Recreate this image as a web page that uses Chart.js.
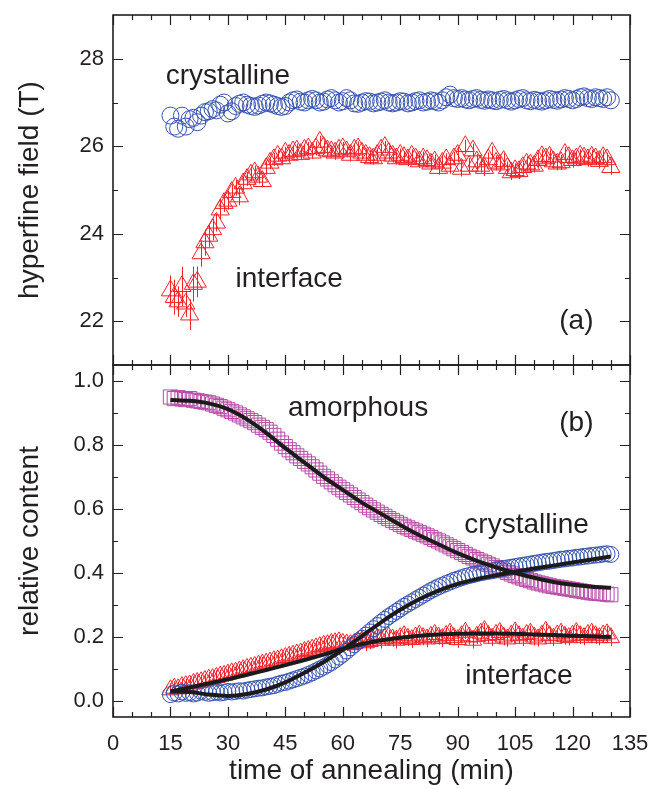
<!DOCTYPE html>
<html>
<head>
<meta charset="utf-8">
<script src="https://cdn.jsdelivr.net/npm/chart.js@4.4.1/dist/chart.umd.min.js"></script>
<style>
  html, body { margin: 0; padding: 0; background: #fff; }
  #wrap { position: relative; width: 661px; height: 789px; }
  #wrap canvas { position: absolute; left: 0; top: 0; }
</style>
</head>
<body>
<div id="wrap">
  <canvas id="panelA" width="661" height="789"></canvas>
  <canvas id="panelB" width="661" height="789"></canvas>
</div>
<script>
// --- data (time of annealing in min) ---
const times = [
  15, 16, 17, 18, 19, 20, 21, 22, 23, 24,
  25, 26, 27, 28, 29, 30, 31, 32, 33, 34,
  35, 36, 37, 38, 39, 40, 41, 42, 43, 44,
  45, 46, 47, 48, 49, 50, 51, 52, 53, 54,
  55, 56, 57, 58, 59, 60, 61, 62, 63, 64,
  65, 66, 67, 68, 69, 70, 71, 72, 73, 74,
  75, 76, 77, 78, 79, 80, 81, 82, 83, 84,
  85, 86, 87, 88, 89, 90, 91, 92, 93, 94,
  95, 96, 97, 98, 99, 100, 101, 102, 103, 104,
  105, 106, 107, 108, 109, 110, 111, 112, 113, 114,
  115, 116, 117, 118, 119, 120, 121, 122, 123, 124,
  125, 126, 127, 128, 129, 130
];

// (a) hyperfine field, T
const hfCrystalline = [
  26.70, 26.45, 26.40, 26.70, 26.45, 26.62, 26.65, 26.55, 26.70, 26.78,
  26.80, 26.85, 26.82, 26.95, 27.00, 26.75, 26.80, 26.92, 26.97, 27.00,
  26.95, 26.92, 26.90, 26.93, 26.97, 27.00, 26.98, 26.95, 26.92, 26.90,
  26.92, 27.00, 27.05, 27.07, 27.02, 27.00, 27.05, 27.08, 27.05, 27.00,
  27.02, 27.07, 27.10, 27.05, 27.00, 27.03, 27.10, 27.05, 26.98, 26.97,
  27.00, 27.03, 27.02, 26.98, 27.00, 27.02, 27.05, 27.00, 26.98, 27.00,
  27.03, 27.02, 26.98, 27.00, 27.03, 27.05, 27.00, 27.02, 27.05, 27.03,
  27.00, 27.05, 27.12, 27.18, 27.10, 27.08, 27.10, 27.07, 27.05, 27.08,
  27.10, 27.06, 27.04, 27.07, 27.05, 27.03, 27.06, 27.08, 27.05, 27.02,
  27.05, 27.08, 27.10, 27.05, 27.03, 27.06, 27.04, 27.02, 27.05, 27.08,
  27.06, 27.04, 27.07, 27.10, 27.08, 27.05, 27.08, 27.12, 27.14, 27.10,
  27.08, 27.12, 27.10, 27.08, 27.12, 27.05
];
const hfInterface = [
  22.70, 22.55, 22.45, 22.80, 22.40, 22.15, 22.85, 22.90, 23.55, 23.80,
  23.95, 24.10, 24.25, 24.55, 24.70, 24.75, 24.95, 25.05, 24.85, 25.15,
  25.25, 25.35, 25.40, 25.30, 25.20, 25.50, 25.62, 25.70, 25.78, 25.72,
  25.85, 25.80, 25.88, 25.90, 25.82, 25.92, 25.95, 25.85, 25.95, 26.10,
  25.98, 25.90, 25.88, 25.85, 25.92, 25.95, 25.88, 25.80, 25.92, 25.95,
  25.85, 25.80, 25.75, 25.72, 25.80, 25.92, 25.98, 25.85, 25.78, 25.72,
  25.80, 25.75, 25.70, 25.78, 25.72, 25.65, 25.72, 25.68, 25.60, 25.65,
  25.50, 25.62, 25.70, 25.55, 25.72, 25.80, 25.48, 26.00, 25.55, 25.90,
  25.65, 25.55, 25.50, 25.70, 25.85, 25.62, 25.58, 25.66, 25.50, 25.40,
  25.45, 25.43, 25.52, 25.60, 25.58, 25.55, 25.68, 25.77, 25.72, 25.76,
  25.65, 25.60, 25.63, 25.82, 25.75, 25.68, 25.72, 25.78, 25.74, 25.70,
  25.76, 25.72, 25.66, 25.75, 25.70, 25.52
];
const hfInterfaceErr = [
  0.35, 0.40, 0.35, 0.45, 0.30, 0.35, 0.40, 0.35, 0.30, 0.30,
  0.25, 0.25, 0.20, 0.22, 0.20, 0.20, 0.18, 0.18, 0.20, 0.16,
  0.16, 0.15, 0.16, 0.15, 0.14, 0.15, 0.14, 0.15, 0.14, 0.15,
  0.14, 0.15, 0.13, 0.16, 0.14, 0.13, 0.15, 0.14, 0.16, 0.14,
  0.15, 0.13, 0.14, 0.16, 0.14, 0.15, 0.13, 0.15, 0.14, 0.16,
  0.14, 0.15, 0.16, 0.14, 0.15, 0.13, 0.14, 0.16, 0.15, 0.14,
  0.15, 0.14, 0.16, 0.15, 0.14, 0.15, 0.16, 0.14, 0.15, 0.16,
  0.15, 0.16, 0.14, 0.18, 0.15, 0.16, 0.17, 0.15, 0.18, 0.16,
  0.17, 0.15, 0.18, 0.16, 0.15, 0.17, 0.16, 0.18, 0.15, 0.17,
  0.16, 0.18, 0.15, 0.17, 0.16, 0.15, 0.17, 0.16, 0.15, 0.17,
  0.16, 0.15, 0.17, 0.16, 0.15, 0.17, 0.16, 0.15, 0.16, 0.17,
  0.16, 0.15, 0.17, 0.16, 0.15, 0.18
];

// (b) relative content
const relAmorphous = [
  0.950, 0.945, 0.948, 0.944, 0.942, 0.945, 0.940, 0.938, 0.936, 0.934,
  0.932, 0.928, 0.924, 0.920, 0.915, 0.910, 0.905, 0.900, 0.894, 0.888,
  0.882, 0.876, 0.870, 0.862, 0.855, 0.848, 0.840, 0.830, 0.818, 0.806,
  0.795, 0.785, 0.776, 0.766, 0.758, 0.749, 0.741, 0.732, 0.722, 0.712,
  0.702, 0.694, 0.685, 0.676, 0.668, 0.660, 0.652, 0.644, 0.636, 0.628,
  0.620, 0.612, 0.604, 0.597, 0.590, 0.583, 0.577, 0.570, 0.564, 0.558,
  0.552, 0.546, 0.541, 0.536, 0.531, 0.526, 0.521, 0.516, 0.511, 0.505,
  0.500, 0.494, 0.488, 0.482, 0.476, 0.470, 0.464, 0.458, 0.452, 0.447,
  0.442, 0.437, 0.432, 0.427, 0.422, 0.417, 0.412, 0.407, 0.402, 0.397,
  0.392, 0.388, 0.384, 0.380, 0.376, 0.372, 0.369, 0.366, 0.363, 0.360,
  0.358, 0.356, 0.354, 0.352, 0.350, 0.348, 0.346, 0.344, 0.342, 0.340,
  0.338, 0.337, 0.336, 0.335, 0.334, 0.332
];
const relCrystalline = [
  0.020, 0.025, 0.022, 0.028, 0.024, 0.026, 0.022, 0.025, 0.030, 0.027,
  0.024, 0.026, 0.028, 0.025, 0.027, 0.030, 0.028, 0.030, 0.032, 0.031,
  0.034, 0.036, 0.038, 0.040, 0.041, 0.044, 0.046, 0.048, 0.052, 0.056,
  0.058, 0.062, 0.066, 0.070, 0.074, 0.078, 0.083, 0.088, 0.094, 0.100,
  0.106, 0.113, 0.120, 0.128, 0.137, 0.146, 0.156, 0.166, 0.176, 0.186,
  0.196, 0.206, 0.216, 0.226, 0.236, 0.246, 0.255, 0.264, 0.272, 0.280,
  0.288, 0.296, 0.303, 0.310, 0.317, 0.324, 0.331, 0.338, 0.345, 0.351,
  0.357, 0.362, 0.367, 0.372, 0.377, 0.381, 0.385, 0.389, 0.392, 0.395,
  0.398, 0.401, 0.403, 0.405, 0.407, 0.410, 0.412, 0.414, 0.416, 0.418,
  0.420, 0.422, 0.424, 0.426, 0.428, 0.430, 0.432, 0.434, 0.436, 0.437,
  0.439, 0.441, 0.443, 0.444, 0.446, 0.447, 0.449, 0.450, 0.452, 0.453,
  0.455, 0.456, 0.457, 0.459, 0.460, 0.458
];
const relInterface = [
  0.035, 0.040, 0.038, 0.045, 0.048, 0.050, 0.055, 0.058, 0.060, 0.064,
  0.068, 0.070, 0.074, 0.078, 0.080, 0.084, 0.088, 0.090, 0.094, 0.098,
  0.102, 0.105, 0.108, 0.112, 0.115, 0.118, 0.122, 0.126, 0.128, 0.132,
  0.136, 0.140, 0.143, 0.147, 0.150, 0.155, 0.158, 0.162, 0.166, 0.170,
  0.174, 0.176, 0.180, 0.182, 0.185, 0.180, 0.178, 0.176, 0.180, 0.185,
  0.188, 0.182, 0.186, 0.190, 0.195, 0.190, 0.196, 0.200, 0.194, 0.190,
  0.198, 0.204, 0.196, 0.192, 0.200, 0.206, 0.198, 0.194, 0.202, 0.208,
  0.200, 0.195, 0.205, 0.212, 0.198, 0.192, 0.204, 0.215, 0.200, 0.190,
  0.202, 0.212, 0.220, 0.205, 0.196, 0.208, 0.214, 0.200, 0.194, 0.206,
  0.216, 0.204, 0.196, 0.208, 0.212, 0.200, 0.194, 0.206, 0.218, 0.204,
  0.196, 0.206, 0.212, 0.202, 0.198, 0.206, 0.214, 0.204, 0.198, 0.208,
  0.212, 0.204, 0.198, 0.206, 0.210, 0.198
];
const relInterfaceErr = [
  0.020, 0.022, 0.020, 0.024, 0.022, 0.020, 0.022, 0.024, 0.022, 0.020,
  0.022, 0.024, 0.022, 0.020, 0.022, 0.024, 0.022, 0.020, 0.022, 0.024,
  0.022, 0.020, 0.022, 0.024, 0.022, 0.020, 0.022, 0.024, 0.022, 0.020,
  0.022, 0.024, 0.022, 0.020, 0.022, 0.024, 0.022, 0.020, 0.022, 0.024,
  0.022, 0.020, 0.022, 0.024, 0.022, 0.020, 0.022, 0.024, 0.022, 0.020,
  0.024, 0.026, 0.024, 0.022, 0.024, 0.026, 0.024, 0.022, 0.024, 0.026,
  0.024, 0.022, 0.024, 0.026, 0.024, 0.022, 0.024, 0.026, 0.024, 0.022,
  0.024, 0.026, 0.024, 0.022, 0.024, 0.026, 0.024, 0.022, 0.024, 0.026,
  0.024, 0.022, 0.024, 0.026, 0.024, 0.022, 0.024, 0.026, 0.024, 0.022,
  0.024, 0.026, 0.024, 0.022, 0.024, 0.026, 0.024, 0.022, 0.024, 0.026,
  0.024, 0.022, 0.024, 0.026, 0.024, 0.022, 0.024, 0.026, 0.024, 0.022,
  0.024, 0.026, 0.024, 0.022, 0.024, 0.026
];

// fitted curves (black lines)
const fitTimes = [15, 20, 25, 30, 35, 40, 45, 50, 55, 60, 65, 70, 75, 80, 85, 90, 95, 100, 105, 110, 115, 120, 125, 130];
const fitAmorphous = [0.941, 0.938, 0.930, 0.912, 0.880, 0.838, 0.790, 0.745, 0.700, 0.660, 0.620, 0.585, 0.550, 0.518, 0.490, 0.462, 0.438, 0.418, 0.400, 0.385, 0.372, 0.363, 0.357, 0.354];
const fitCrystalline = [0.030, 0.028, 0.020, 0.016, 0.022, 0.036, 0.058, 0.088, 0.122, 0.160, 0.203, 0.246, 0.285, 0.318, 0.345, 0.366, 0.381, 0.393, 0.404, 0.414, 0.423, 0.433, 0.442, 0.452];
const fitInterface = [0.030, 0.042, 0.055, 0.068, 0.082, 0.097, 0.112, 0.128, 0.145, 0.163, 0.178, 0.190, 0.198, 0.204, 0.208, 0.210, 0.211, 0.211, 0.210, 0.208, 0.206, 0.204, 0.202, 0.200];

// --- axis ticks ---
const xMajor = [0, 15, 30, 45, 60, 75, 90, 105, 120, 135];
const xMinor = [5, 10, 20, 25, 35, 40, 50, 55, 65, 70, 80, 85, 95, 100, 110, 115, 125, 130];
const hfMajor = [22, 24, 26, 28];
const hfMinor = [23, 25, 27];
const relMajor = [0, 0.2, 0.4, 0.6, 0.8, 1.0];
const relMinor = [0.1, 0.3, 0.5, 0.7, 0.9];

// --- look ---
const INK = '#231f20';
const BLUE = '#3552ad';
const RED = '#f2222a';
const PINK = '#b94aa6';
const FONT = '"Liberation Sans", Arial, Helvetica, sans-serif';
const PLOT = { left: 113, right: 630, top: 15, mid: 365, bottom: 717 };

Chart.defaults.font.family = FONT;
Chart.defaults.color = INK;

const xy = (xs, ys) => xs.map((x, i) => ({ x, y: ys[i] }));

// inward ticks on all four sides + frame
const frameTicks = {
  id: 'frameTicks',
  afterDraw(chart, args, o) {
    const { ctx, chartArea: a } = chart;
    const xs = chart.scales.x, ys = chart.scales.y;
    ctx.save();
    ctx.strokeStyle = INK;
    ctx.lineWidth = 1.2;
    ctx.beginPath();
    const xTick = (v, len) => {
      const p = Math.round(xs.getPixelForValue(v)) + 0.5;
      ctx.moveTo(p, a.bottom); ctx.lineTo(p, a.bottom - len);
      ctx.moveTo(p, a.top); ctx.lineTo(p, a.top + len);
    };
    const yTick = (v, len) => {
      const p = Math.round(ys.getPixelForValue(v)) + 0.5;
      ctx.moveTo(a.left, p); ctx.lineTo(a.left + len, p);
      ctx.moveTo(a.right, p); ctx.lineTo(a.right - len, p);
    };
    o.xMajor.forEach(v => xTick(v, 10));
    o.xMinor.forEach(v => xTick(v, 5));
    o.yMajor.forEach(v => yTick(v, 10));
    o.yMinor.forEach(v => yTick(v, 5));
    ctx.stroke();
    ctx.lineWidth = 1.6;
    ctx.strokeRect(a.left, a.top, a.right - a.left, a.bottom - a.top);
    ctx.restore();
  }
};

// vertical error bars for datasets that carry an `errors` array
const errorBars = {
  id: 'errorBars',
  beforeDatasetsDraw(chart) {
    const { ctx } = chart;
    const ys = chart.scales.y;
    chart.data.datasets.forEach((ds, i) => {
      if (!ds.errors) return;
      const meta = chart.getDatasetMeta(i);
      ctx.save();
      ctx.strokeStyle = ds.borderColor;
      ctx.lineWidth = 1;
      ctx.beginPath();
      meta.data.forEach((pt, j) => {
        const v = ds.data[j].y, e = ds.errors[j];
        const px = Math.round(pt.x) + 0.5;
        ctx.moveTo(px, ys.getPixelForValue(v - e));
        ctx.lineTo(px, ys.getPixelForValue(v + e));
      });
      ctx.stroke();
      ctx.restore();
    });
  }
};

// in-plot text labels, placed in data coordinates
const plotLabels = {
  id: 'plotLabels',
  afterDraw(chart, args, o) {
    const { ctx } = chart;
    ctx.save();
    ctx.font = '28px ' + FONT;
    ctx.fillStyle = INK;
    ctx.textAlign = 'center';
    ctx.textBaseline = 'middle';
    o.items.forEach(it => {
      ctx.fillText(it.text, chart.scales.x.getPixelForValue(it.x), chart.scales.y.getPixelForValue(it.y));
    });
    ctx.restore();
  }
};

const yAxis = (min, max, major, title, fmt) => ({
  type: 'linear',
  min, max,
  afterBuildTicks: s => { s.ticks = major.map(v => ({ value: v })); },
  afterFit: s => { s.width = PLOT.left; s.paddingTop = 0; s.paddingBottom = 0; },
  grid: { display: false, drawTicks: false },
  border: { display: false },
  ticks: { font: { size: 22 }, color: INK, padding: 9, callback: fmt },
  title: { display: true, text: title, font: { size: 28 }, color: INK, padding: { top: 13, bottom: 0 } }
});

const scatterSet = (label, data, style, radius, color, extra) => Object.assign({
  label, data,
  showLine: false,
  pointStyle: style,
  pointRadius: radius,
  pointBorderWidth: 1,
  borderColor: color,
  pointBorderColor: color,
  pointBackgroundColor: 'rgba(0,0,0,0)'
}, extra || {});

const fitSet = (label, data) => ({
  label, data,
  showLine: true,
  pointRadius: 0,
  borderColor: '#1c1a1a',
  borderWidth: 4,
  cubicInterpolationMode: 'monotone',
  fill: false
});

// --- (a) hyperfine field ---
new Chart(document.getElementById('panelA'), {
  type: 'scatter',
  data: {
    datasets: [
      scatterSet('crystalline', xy(times, hfCrystalline), 'circle', 8.5, BLUE),
      scatterSet('interface', xy(times, hfInterface), 'triangle', 10.5, RED, { errors: hfInterfaceErr })
    ]
  },
  options: {
    responsive: false,
    animation: false,
    events: [],
    layout: { padding: { top: PLOT.top, right: 661 - PLOT.right, bottom: 789 - PLOT.mid, left: 0 } },
    scales: {
      x: { type: 'linear', min: 0, max: 135, display: false },
      y: yAxis(21, 29, hfMajor, 'hyperfine field (T)', v => String(v))
    },
    plugins: {
      legend: { display: false },
      tooltip: { enabled: false },
      frameTicks: { xMajor, xMinor, yMajor: hfMajor, yMinor: hfMinor },
      plotLabels: {
        items: [
          { text: 'crystalline', x: 30, y: 27.6 },
          { text: 'interface', x: 46, y: 22.95 },
          { text: '(a)', x: 121, y: 22.0 }
        ]
      }
    }
  },
  plugins: [errorBars, frameTicks, plotLabels]
});

// --- (b) relative content ---
new Chart(document.getElementById('panelB'), {
  type: 'scatter',
  data: {
    datasets: [
      fitSet('fit amorphous', xy(fitTimes, fitAmorphous)),
      fitSet('fit crystalline', xy(fitTimes, fitCrystalline)),
      fitSet('fit interface', xy(fitTimes, fitInterface)),
      scatterSet('crystalline', xy(times, relCrystalline), 'circle', 8, BLUE),
      scatterSet('interface', xy(times, relInterface), 'triangle', 10, RED, { errors: relInterfaceErr }),
      scatterSet('amorphous', xy(times, relAmorphous), 'rect', 10, PINK)
    ]
  },
  options: {
    responsive: false,
    animation: false,
    events: [],
    layout: { padding: { top: PLOT.mid, right: 661 - PLOT.right, bottom: 0, left: 0 } },
    scales: {
      x: {
        type: 'linear',
        min: 0, max: 135,
        afterBuildTicks: s => { s.ticks = xMajor.map(v => ({ value: v })); },
        afterFit: s => { s.height = 789 - PLOT.bottom; s.paddingLeft = 0; s.paddingRight = 0; },
        grid: { display: false, drawTicks: false },
        border: { display: false },
        ticks: { font: { size: 22 }, color: INK, padding: 14, maxRotation: 0, autoSkip: false },
        title: { display: true, text: 'time of annealing (min)', font: { size: 28 }, color: INK, padding: { top: 0, bottom: 1 } }
      },
      y: yAxis(-0.05, 1.05, relMajor, 'relative content', v => v.toFixed(1))
    },
    plugins: {
      legend: { display: false },
      tooltip: { enabled: false },
      frameTicks: { xMajor, xMinor, yMajor: relMajor, yMinor: relMinor },
      plotLabels: {
        items: [
          { text: 'amorphous', x: 64, y: 0.915 },
          { text: '(b)', x: 121, y: 0.868 },
          { text: 'crystalline', x: 108, y: 0.549 },
          { text: 'interface', x: 106, y: 0.078 }
        ]
      }
    }
  },
  plugins: [errorBars, frameTicks, plotLabels]
});
</script>
</body>
</html>
